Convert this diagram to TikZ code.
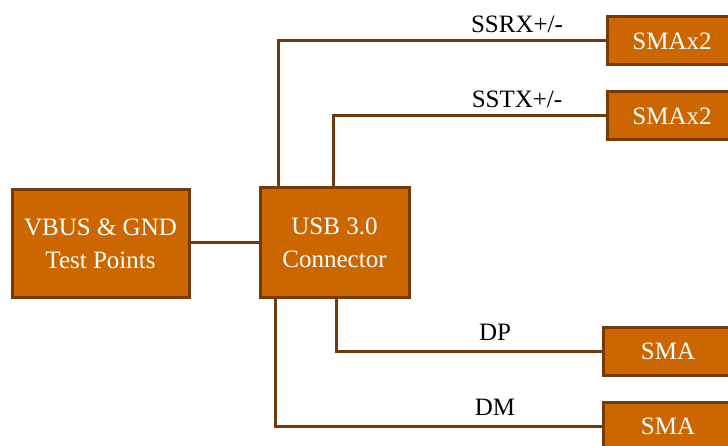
\documentclass[tikz,border=0pt]{standalone}
\usepackage{fontspec}
\setmainfont{Liberation Serif}
\definecolor{boxfill}{HTML}{CC6600}
\definecolor{boxedge}{HTML}{753A08}
\definecolor{wire}{HTML}{6E3B10}
\begin{document}
\begin{tikzpicture}[x=1pt,y=-1pt,
  blk/.style={draw=boxedge,fill=boxfill,line width=3pt,text=white,
    font=\fontsize{25}{33}\selectfont,align=center,inner sep=0pt},
  conn/.style={draw=wire,line width=3pt},
  lbl/.style={font=\fontsize{25}{30}\selectfont,text=black,inner sep=0pt}]
\useasboundingbox (0,0) rectangle (728,446);
\clip (0,0) rectangle (728,446);
\node[blk,minimum width=177pt,minimum height=108pt] (vbus) at (100.5,244) {VBUS \& GND\\Test Points};
\node[blk,minimum width=149pt,minimum height=110pt] (usb) at (334.5,243) {USB 3.0\\Connector};
\node[blk,minimum width=130pt,minimum height=48pt] (ssrx) at (672,41) {SMAx2};
\node[blk,minimum width=130pt,minimum height=48pt] (sstx) at (672,116) {SMAx2};
\node[blk,minimum width=130pt,minimum height=48pt] (dp) at (668,351) {SMA};
\node[blk,minimum width=130pt,minimum height=48pt] (dm) at (668,426) {SMA};
\coordinate (xrx) at (278,0);
\coordinate (xtx) at (333,0);
\coordinate (xdp) at (336,0);
\coordinate (xdm) at (275,0);
\draw[conn] (vbus.east |- usb.west) -- (usb.west);
\draw[conn] (usb.north -| xrx) |- (ssrx.west);
\draw[conn] (usb.north -| xtx) |- (sstx.west);
\draw[conn] (usb.south -| xdp) |- (dp.west);
\draw[conn] (usb.south -| xdm) |- (dm.west);
\node[lbl] (lrx) at (517,24) {SSRX+/-};
\node[lbl] (ltx) at (517,99) {SSTX+/-};
\node[lbl] (ldp) at (495,332) {DP};
\node[lbl] (ldm) at (495,407) {DM};
\end{tikzpicture}
\end{document}
